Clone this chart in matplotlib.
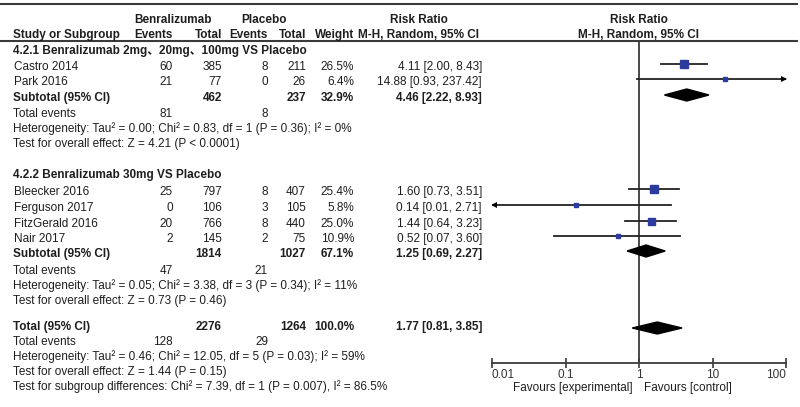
import numpy as np
import matplotlib.pyplot as plt
from matplotlib.patches import Polygon

plt.rcParams['font.family'] = ['Liberation Sans', 'Noto Sans CJK SC', 'DejaVu Sans']

# ---- data ----
group_titles = ['4.2.1 Benralizumab 2mg、20mg、100mg VS Placebo',
                '4.2.2 Benralizumab 30mg VS Placebo']
studies = [
    ['Castro 2014', 'Park 2016'],
    ['Bleecker 2016', 'Ferguson 2017', 'FitzGerald 2016', 'Nair 2017'],
]
exp_events = [[60, 21], [25, 0, 20, 2]]
exp_total = [[385, 77], [797, 106, 766, 145]]
ctl_events = [[8, 0], [8, 3, 8, 2]]
ctl_total = [[211, 26], [407, 105, 440, 75]]
weights = [[26.5, 6.4], [25.4, 5.8, 25.0, 10.9]]
rr = [[4.11, 14.88], [1.60, 0.14, 1.44, 0.52]]
rr_lo = [[2.00, 0.93], [0.73, 0.01, 0.64, 0.07]]
rr_hi = [[8.43, 237.42], [3.51, 2.71, 3.23, 3.60]]

sub_exp_total = [462, 1814]
sub_ctl_total = [237, 1027]
sub_weight = [32.9, 67.1]
sub_rr = [4.46, 1.25]
sub_lo = [2.22, 0.69]
sub_hi = [8.93, 2.27]
sub_exp_events = [81, 47]
sub_ctl_events = [8, 21]
sub_het = ['Heterogeneity: Tau² = 0.00; Chi² = 0.83, df = 1 (P = 0.36); I² = 0%',
           'Heterogeneity: Tau² = 0.05; Chi² = 3.38, df = 3 (P = 0.34); I² = 11%']
sub_test = ['Test for overall effect: Z = 4.21 (P < 0.0001)',
            'Test for overall effect: Z = 0.73 (P = 0.46)']

tot_exp_total, tot_ctl_total, tot_weight = 2276, 1264, 100.0
tot_rr, tot_lo, tot_hi = 1.77, 0.81, 3.85
tot_exp_events, tot_ctl_events = 128, 29
tot_het = 'Heterogeneity: Tau² = 0.46; Chi² = 12.05, df = 5 (P = 0.03); I² = 59%'
tot_test = 'Test for overall effect: Z = 1.44 (P = 0.15)'
subgroup_test = 'Test for subgroup differences: Chi² = 7.39, df = 1 (P = 0.007), I² = 86.5%'

xticks = [0.01, 0.1, 1, 10, 100]
xticklabels = ['0.01', '0.1', '1', '10', '100']

# ---- layout (pixel coordinates) ----
W, H = 800, 407
FS = 8.5
TXT = '#1e1e1e'
LINE = '#3a3a3a'
BLUE = '#2b3b9e'
col_x = dict(name=13, ee=173, et=222, ce=268, ct=306, w=354, rr=482)

fig = plt.figure(figsize=(W / 100, H / 100), dpi=100)
ax = fig.add_axes([0, 0, 1, 1])
ax.set_xlim(0, W)
ax.set_ylim(H, 0)
ax.axis('off')

fx0, fx1 = 492, 786
axf = fig.add_axes([fx0 / W, 0, (fx1 - fx0) / W, 1])
axf.set_xscale('log')
axf.set_xlim(0.01, 100)
axf.set_ylim(H, 0)
axf.patch.set_visible(False)
for s in ['top', 'left', 'right']:
    axf.spines[s].set_visible(False)
axis_y = 363
axf.spines['bottom'].set_position(('data', axis_y))
axf.spines['bottom'].set_color(LINE)
axf.spines['bottom'].set_linewidth(1.3)
axf.set_yticks([])
axf.set_xticks(xticks)
labs = axf.set_xticklabels(xticklabels)
labs[0].set_ha('left')
labs[-1].set_ha('right')
axf.xaxis.set_minor_locator(plt.NullLocator())
axf.tick_params(axis='x', direction='inout', length=7, width=1.2, color=LINE,
                labelsize=FS, labelcolor='#333333', pad=1)


def txt(x, y, s, ha='left', bold=False):
    ax.text(x, y, s, ha=ha, va='center', fontsize=FS, color=TXT,
            fontweight='bold' if bold else 'normal')


# header
ax.plot([0, 797], [4, 4], color=LINE, lw=1.5)
ax.plot([0, 797], [41, 41], color=LINE, lw=1.5)
txt(173, 20, 'Benralizumab', ha='center', bold=True)
txt(264, 20, 'Placebo', ha='center', bold=True)
txt(419, 20, 'Risk Ratio', ha='center', bold=True)
txt(639, 20, 'Risk Ratio', ha='center', bold=True)
txt(col_x['name'], 35, 'Study or Subgroup', bold=True)
txt(col_x['ee'], 35, 'Events', ha='right', bold=True)
txt(col_x['et'], 35, 'Total', ha='right', bold=True)
txt(col_x['ce'], 35, 'Events', ha='right', bold=True)
txt(col_x['ct'], 35, 'Total', ha='right', bold=True)
txt(col_x['w'], 35, 'Weight', ha='right', bold=True)
txt(419, 35, 'M-H, Random, 95% CI', ha='center', bold=True)
txt(639, 35, 'M-H, Random, 95% CI', ha='center', bold=True)


def diamond(y, est, lo, hi, h=12):
    axf.add_patch(Polygon([(lo, y), (est, y - h / 2), (hi, y), (est, y + h / 2)],
                          closed=True, color='black', zorder=3))


def ci_line(y, est, lo, hi, w):
    a, b = max(lo, 0.01), min(hi, 100)
    axf.plot([a, b], [y, y], color='#222222', lw=1.3, zorder=2)
    if lo < 0.0101:
        axf.plot([0.0105], [y], marker='<', ms=5, color='black', mew=0, zorder=3)
    if hi > 100:
        axf.plot([95], [y], marker='>', ms=5, color='black', mew=0, zorder=3)
    side = 1.4 * np.sqrt(w)
    axf.plot([est], [y], marker='s', ms=side * 0.72, color=BLUE, mec=BLUE, zorder=4)


group_rows = [
    dict(title=51, rows=[67, 82], sub=98, te=114, het=129, test=144),
    dict(title=175, rows=[192, 208, 224, 239], sub=254, te=271, het=286, test=301),
]
OFF = -3  # plot marks sit slightly above text centre

for g, lay in enumerate(group_rows):
    txt(col_x['name'], lay['title'], group_titles[g], bold=True)
    for i, y in enumerate(lay['rows']):
        txt(col_x['name'] + 1, y, studies[g][i])
        txt(col_x['ee'], y, str(exp_events[g][i]), ha='right')
        txt(col_x['et'], y, str(exp_total[g][i]), ha='right')
        txt(col_x['ce'], y, str(ctl_events[g][i]), ha='right')
        txt(col_x['ct'], y, str(ctl_total[g][i]), ha='right')
        txt(col_x['w'], y, f'{weights[g][i]:.1f}%', ha='right')
        txt(col_x['rr'], y, f'{rr[g][i]:.2f} [{rr_lo[g][i]:.2f}, {rr_hi[g][i]:.2f}]', ha='right')
        ci_line(y + OFF, rr[g][i], rr_lo[g][i], rr_hi[g][i], weights[g][i])
    y = lay['sub']
    txt(col_x['name'], y, 'Subtotal (95% CI)', bold=True)
    txt(col_x['et'], y, str(sub_exp_total[g]), ha='right', bold=True)
    txt(col_x['ct'], y, str(sub_ctl_total[g]), ha='right', bold=True)
    txt(col_x['w'], y, f'{sub_weight[g]:.1f}%', ha='right', bold=True)
    txt(col_x['rr'], y, f'{sub_rr[g]:.2f} [{sub_lo[g]:.2f}, {sub_hi[g]:.2f}]', ha='right', bold=True)
    diamond(y + OFF, sub_rr[g], sub_lo[g], sub_hi[g])
    txt(col_x['name'], lay['te'], 'Total events')
    txt(col_x['ee'], lay['te'], str(sub_exp_events[g]), ha='right')
    txt(col_x['ce'], lay['te'], str(sub_ctl_events[g]), ha='right')
    txt(col_x['name'], lay['het'], sub_het[g])
    txt(col_x['name'], lay['test'], sub_test[g])

# overall
y = 327
txt(col_x['name'], y, 'Total (95% CI)', bold=True)
txt(col_x['et'], y, str(tot_exp_total), ha='right', bold=True)
txt(col_x['ct'], y, str(tot_ctl_total), ha='right', bold=True)
txt(col_x['w'], y, f'{tot_weight:.1f}%', ha='right', bold=True)
txt(col_x['rr'], y, f'{tot_rr:.2f} [{tot_lo:.2f}, {tot_hi:.2f}]', ha='right', bold=True)
diamond(y + 4 + OFF, tot_rr, tot_lo, tot_hi)
txt(col_x['name'], 342, 'Total events')
txt(col_x['ee'], 342, str(tot_exp_events), ha='right')
txt(col_x['ce'], 342, str(tot_ctl_events), ha='right')
txt(col_x['name'], 357, tot_het)
txt(col_x['name'], 372, tot_test)
txt(col_x['name'], 387, subgroup_test)

# null line and favours labels
axf.vlines(1, 41, axis_y, color=LINE, lw=1.3, zorder=1)
txt(633, 388, 'Favours [experimental]', ha='right')
txt(644, 388, 'Favours [control]')

fig.savefig('out.png', dpi=100)
